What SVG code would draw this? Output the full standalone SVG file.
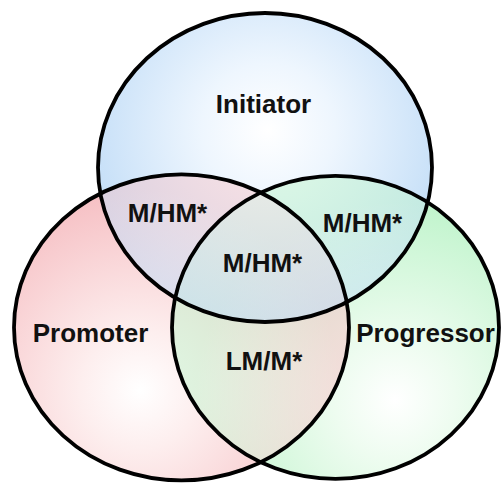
<svg xmlns="http://www.w3.org/2000/svg" width="502" height="483" viewBox="0 0 502 483">
  <style>
    .ring { fill: none; stroke: #000; stroke-width: 3.8; }
    .lbl { font-family: "Liberation Sans", Arial, sans-serif; font-weight: bold; font-size: 26px; fill: #111; text-anchor: middle; }
  </style>
  <defs>
    <radialGradient id="gB" gradientUnits="userSpaceOnUse" cx="268" cy="130" r="190">
      <stop offset="0" stop-color="#ffffff"/>
      <stop offset="0.35" stop-color="#eef6fe"/>
      <stop offset="1" stop-color="#c2ddf7"/>
    </radialGradient>
    <radialGradient id="gP" gradientUnits="userSpaceOnUse" cx="140" cy="390" r="200">
      <stop offset="0" stop-color="#ffffff"/>
      <stop offset="0.3" stop-color="#fdeeee"/>
      <stop offset="1" stop-color="#f6c0c4"/>
    </radialGradient>
    <radialGradient id="gG" gradientUnits="userSpaceOnUse" cx="395" cy="400" r="200">
      <stop offset="0" stop-color="#ffffff"/>
      <stop offset="0.3" stop-color="#eefcf0"/>
      <stop offset="1" stop-color="#c0f4cc"/>
    </radialGradient>
    <clipPath id="cP"><ellipse cx="181.5" cy="327.4" rx="167.5" ry="153"/></clipPath>
    <clipPath id="cG"><ellipse cx="335.5" cy="327.4" rx="163.5" ry="151.5"/></clipPath>
    <mask id="mGnotP" maskUnits="userSpaceOnUse" x="0" y="0" width="502" height="483">
      <ellipse cx="335.5" cy="327.4" rx="163.5" ry="151.5" fill="#fff"/>
      <ellipse cx="181.5" cy="327.4" rx="167.5" ry="153" fill="#000"/>
    </mask>
  </defs>
  <rect width="502" height="483" fill="#fff"/>
  <g id="fills">
    <ellipse cx="265" cy="167.5" rx="167" ry="154.5" fill="url(#gB)"/>
    <ellipse cx="181.5" cy="327.4" rx="167.5" ry="153" fill="url(#gP)"/>
    <ellipse cx="335.5" cy="327.4" rx="163.5" ry="151.5" fill="url(#gG)"/>
    <g clip-path="url(#cG)"><ellipse cx="181.5" cy="327.4" rx="167.5" ry="153" fill="url(#gP)" opacity="0.5"/></g>
    <g clip-path="url(#cP)"><ellipse cx="265" cy="167.5" rx="167" ry="154.5" fill="url(#gB)" opacity="0.55"/></g>
    <g mask="url(#mGnotP)"><ellipse cx="265" cy="167.5" rx="167" ry="154.5" fill="url(#gB)" opacity="0.5"/></g>
  </g>
  <g id="connectors"/>
  <g id="initiator">
    <ellipse class="ring" cx="265" cy="167.5" rx="167" ry="154.5"/>
    <text class="lbl" x="263.5" y="113">Initiator</text>
  </g>
  <g id="promoter">
    <ellipse class="ring" cx="181.5" cy="327.4" rx="167.5" ry="153"/>
    <text class="lbl" x="90.5" y="342">Promoter</text>
  </g>
  <g id="progressor">
    <ellipse class="ring" cx="335.5" cy="327.4" rx="163.5" ry="151.5"/>
    <text class="lbl" x="425.5" y="342">Progressor</text>
  </g>
  <g id="initiator-promoter">
    <text class="lbl" x="167.5" y="222">M/HM*</text>
  </g>
  <g id="initiator-progressor">
    <text class="lbl" x="362.5" y="232">M/HM*</text>
  </g>
  <g id="all-three">
    <text class="lbl" x="262.5" y="272">M/HM*</text>
  </g>
  <g id="promoter-progressor">
    <text class="lbl" x="264" y="370">LM/M*</text>
  </g>
</svg>
